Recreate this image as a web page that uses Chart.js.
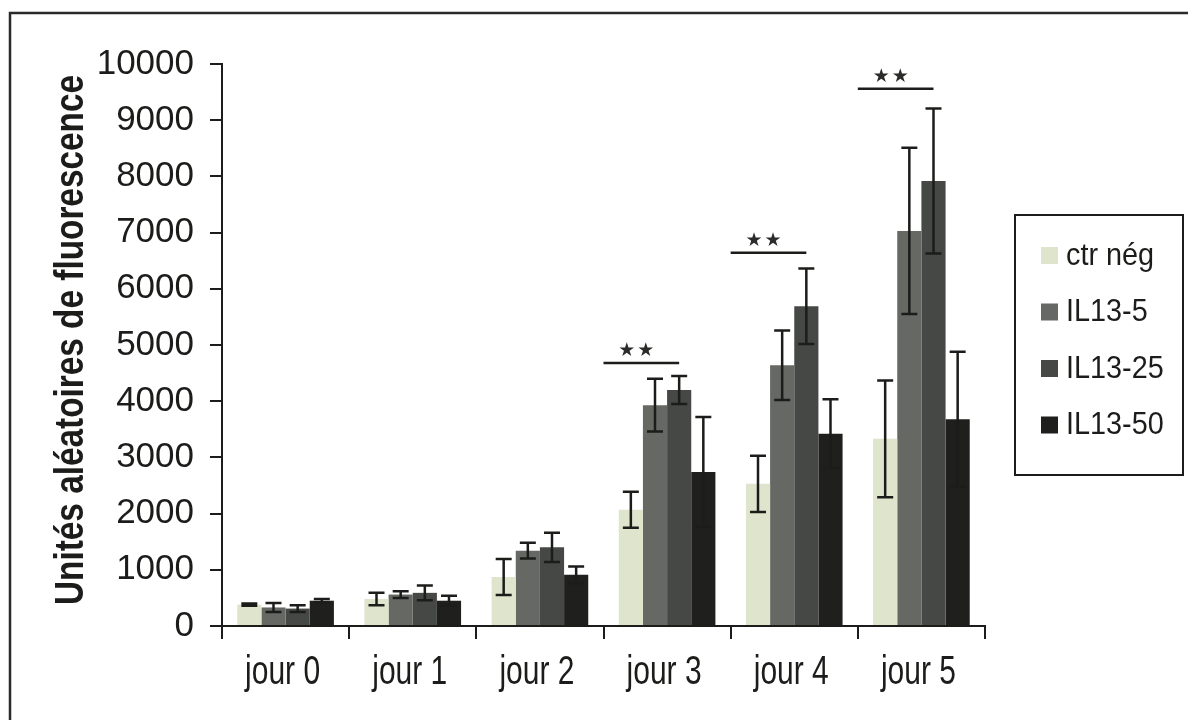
<!DOCTYPE html>
<html>
<head>
<meta charset="utf-8">
<title>Unités aléatoires de fluorescence</title>
<script src="https://cdn.jsdelivr.net/npm/chart.js@4.4.1/dist/chart.umd.min.js"></script>
<style>
  html, body { margin: 0; padding: 0; background: #ffffff; }
  canvas { display: block; }
</style>
</head>
<body>
<canvas id="chart" width="1188" height="720"></canvas>
<script>
// Jours de mesure
const categories = ['jour 0', 'jour 1', 'jour 2', 'jour 3', 'jour 4', 'jour 5'];

// Moyennes par condition
const ctrNeg  = [380, 480, 870, 2070, 2530, 3330];
const il13_5  = [330, 560, 1340, 3930, 4640, 7030];
const il13_25 = [310, 590, 1400, 4200, 5690, 7920];
const il13_50 = [450, 450, 910, 2740, 3420, 3680];

// Écarts (barres d'erreur, ±)
const ctrNegErr  = [20, 110, 320, 320, 500, 1040];
const il13_5Err  = [80, 60, 140, 470, 620, 1480];
const il13_25Err = [60, 130, 260, 250, 670, 1290];
const il13_50Err = [30, 90, 150, 980, 615, 1200];

// Graduations de l'axe des ordonnées
const yTickValues = [0, 1000, 2000, 3000, 4000, 5000, 6000, 7000, 8000, 9000, 10000];

// Comparaisons significatives (**) : jour concerné et niveau du trait
const sigDays   = ['jour 3', 'jour 4', 'jour 5'];
const sigLevels = [4680, 6640, 9560];
const sigMark   = '★★';

const yTitle = 'Unités aléatoires de fluorescence';

const seriesLabels = ['ctr nég', 'IL13-5', 'IL13-25', 'IL13-50'];
const seriesColors = ['#dfe4cc', '#666963', '#464845', '#1f201e'];
const seriesValues = [ctrNeg, il13_5, il13_25, il13_50];
const seriesErrors = [ctrNegErr, il13_5Err, il13_25Err, il13_50Err];

const INK = '#1c1c1a';
const SANS = '"Liberation Sans", Arial, Helvetica, sans-serif';

// Texte condensé : police normale resserrée horizontalement
function condensedText(ctx, text, x, y, squeeze) {
  ctx.save();
  ctx.translate(x, y);
  ctx.scale(squeeze, 1);
  ctx.fillText(text, 0, 0);
  ctx.restore();
}

// Cadre, titre vertical, étiquettes des jours, barres d'erreur, signification et légende
const decorations = {
  id: 'decorations',
  afterDatasetsDraw(chart) {
    const ctx = chart.ctx;
    const y = chart.scales.y;
    const x = chart.scales.x;

    // barres d'erreur
    ctx.save();
    ctx.strokeStyle = INK;
    ctx.lineWidth = 2.5;
    chart.data.datasets.forEach((ds, i) => {
      const meta = chart.getDatasetMeta(i);
      meta.data.forEach((bar, j) => {
        const v = ds.data[j];
        const e = ds.errors[j];
        const yt = y.getPixelForValue(v + e);
        const yb = y.getPixelForValue(v - e);
        const cap = 8;
        ctx.beginPath();
        ctx.moveTo(bar.x, yt); ctx.lineTo(bar.x, yb);
        ctx.moveTo(bar.x - cap, yt); ctx.lineTo(bar.x + cap, yt);
        ctx.moveTo(bar.x - cap, yb); ctx.lineTo(bar.x + cap, yb);
        ctx.stroke();
      });
    });
    ctx.restore();

    // traits de signification
    ctx.save();
    ctx.strokeStyle = INK;
    ctx.fillStyle = '#2b2c29';
    ctx.lineWidth = 2.5;
    ctx.font = '19px "DejaVu Sans", sans-serif';
    ctx.letterSpacing = '2px';
    ctx.textAlign = 'center';
    ctx.textBaseline = 'middle';
    const meta25 = chart.getDatasetMeta(2);
    sigDays.forEach((day, k) => {
      const idx = categories.indexOf(day);
      const x0 = x.getPixelForValue(idx - 0.5);
      const x1 = meta25.data[idx].x;
      const ly = y.getPixelForValue(sigLevels[k]);
      ctx.beginPath();
      ctx.moveTo(x0, ly); ctx.lineTo(x1, ly);
      ctx.stroke();
      ctx.fillText(sigMark, (x0 + x1) / 2 - 4, ly - 12);
    });
    ctx.restore();
  },
  afterDraw(chart) {
    const ctx = chart.ctx;
    const x = chart.scales.x;

    // cadre extérieur
    ctx.save();
    ctx.strokeStyle = '#2a2b28';
    ctx.lineWidth = 2.5;
    ctx.beginPath();
    ctx.moveTo(10, chart.height);
    ctx.lineTo(10, 13);
    ctx.lineTo(chart.width, 13);
    ctx.stroke();
    ctx.restore();

    // étiquettes des jours
    ctx.save();
    ctx.fillStyle = INK;
    ctx.font = '40px ' + SANS;
    ctx.textAlign = 'center';
    ctx.textBaseline = 'alphabetic';
    categories.forEach((c, i) => {
      condensedText(ctx, c, x.getPixelForValue(i) - 3, 684, 0.75);
    });
    ctx.restore();

    // titre de l'axe des ordonnées
    ctx.save();
    ctx.fillStyle = INK;
    ctx.font = 'bold 40px ' + SANS;
    ctx.textAlign = 'center';
    ctx.textBaseline = 'middle';
    const squeeze = 530 / ctx.measureText(yTitle).width;
    ctx.translate(72, 340);
    ctx.rotate(-Math.PI / 2);
    condensedText(ctx, yTitle, 0, 0, squeeze);
    ctx.restore();

    // légende
    ctx.save();
    const bx = 1015, by = 215, bw = 168, bh = 260;
    ctx.fillStyle = '#ffffff';
    ctx.fillRect(bx, by, bw, bh);
    ctx.strokeStyle = INK;
    ctx.lineWidth = 2;
    ctx.strokeRect(bx, by, bw, bh);
    ctx.font = '32px ' + SANS;
    ctx.textAlign = 'left';
    ctx.textBaseline = 'middle';
    chart.data.datasets.forEach((ds, i) => {
      const cy = 255 + i * 56.5;
      ctx.fillStyle = ds.backgroundColor;
      ctx.fillRect(1041, cy - 8, 17, 17);
      ctx.fillStyle = INK;
      condensedText(ctx, ds.label, 1066, cy + 1, 0.9);
    });
    ctx.restore();
  }
};

new Chart(document.getElementById('chart'), {
  type: 'bar',
  data: {
    labels: categories,
    datasets: seriesLabels.map((label, i) => ({
      label,
      data: seriesValues[i],
      errors: seriesErrors[i],
      backgroundColor: seriesColors[i],
      borderWidth: 0,
      categoryPercentage: 0.76,
      barPercentage: 1.0
    }))
  },
  options: {
    responsive: false,
    animation: false,
    devicePixelRatio: 1,
    layout: { padding: { left: 0, right: 203, top: 64, bottom: 0 } },
    plugins: {
      legend: { display: false },
      tooltip: { enabled: false }
    },
    scales: {
      x: {
        grid: {
          offset: true,
          drawOnChartArea: false,
          drawTicks: true,
          tickLength: 13,
          color: INK,
          lineWidth: 2
        },
        border: { display: true, color: INK, width: 2 },
        ticks: { display: false },
        afterFit(scale) { scale.height = 94; }
      },
      y: {
        min: 0,
        max: 10000,
        afterBuildTicks(scale) {
          scale.ticks = yTickValues.map(v => ({ value: v }));
        },
        grid: {
          drawOnChartArea: false,
          drawTicks: true,
          tickLength: 12,
          color: INK,
          lineWidth: 2
        },
        border: { display: true, color: INK, width: 2 },
        ticks: {
          color: INK,
          font: { family: SANS, size: 35 },
          padding: 16,
          callback: v => String(v)
        },
        afterFit(scale) { scale.width = 222; }
      }
    }
  },
  plugins: [decorations]
});
</script>
</body>
</html>
